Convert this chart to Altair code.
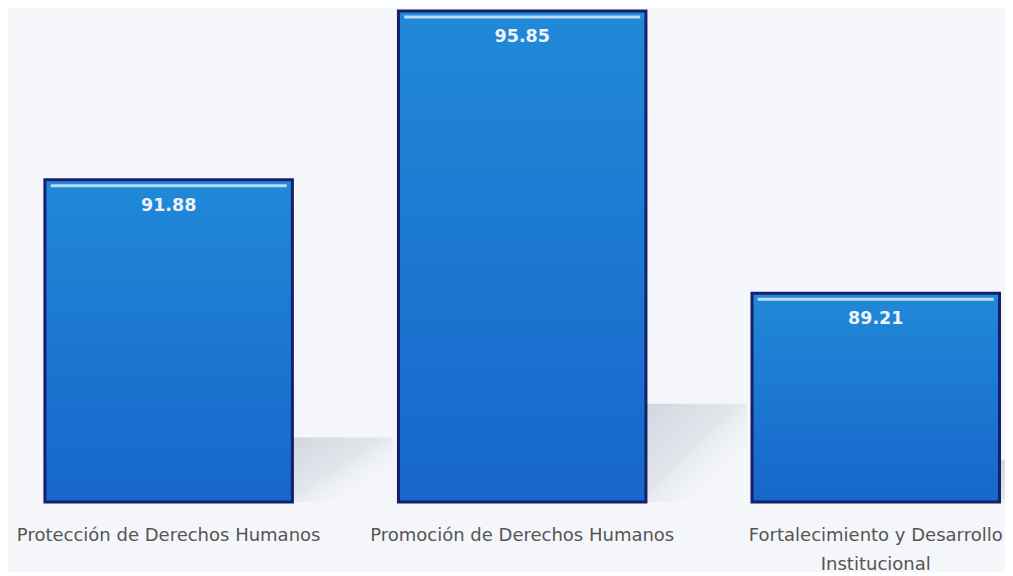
import altair as alt
import pandas as pd

categories = ["Protección de Derechos Humanos", "Promoción de Derechos Humanos",
              "Fortalecimiento y Desarrollo|Institucional"]
values = [91.88, 95.85, 89.21]
labels = ["91.88", "95.85", "89.21"]

df = pd.DataFrame({"cat": categories, "val": values, "lab": labels})

ymin, ymax = 84.3, 95.92

x = alt.X("cat:N", sort=categories, title=None,
          scale=alt.Scale(paddingInner=0.3, paddingOuter=0.06, align=0.87),
          axis=alt.Axis(labelAngle=0, ticks=False, domain=False, labelPadding=24,
                        labelFont="DejaVu Sans", labelFontSize=18, labelColor="#555555",
                        labelLineHeight=29, labelLimit=400,
                        labelExpr="split(datum.label, '|')"))
yscale = alt.Scale(domain=[ymin, ymax], nice=False, zero=False)
y = alt.Y("val:Q", scale=yscale, axis=None)

base = alt.Chart(df)

shadow = base.transform_calculate(
    stop=f"{ymin} + (datum.val - {ymin}) * 0.2"
).mark_bar(
    width=100, xOffset=174, clip=True,
    fill=alt.Gradient(gradient="linear",
                      stops=[alt.GradientStop(color="rgba(190,196,208,0.65)", offset=0),
                             alt.GradientStop(color="rgba(200,205,215,0.4)", offset=0.45),
                             alt.GradientStop(color="rgba(230,233,238,0)", offset=0.75)],
                      x1=0, x2=1, y1=0, y2=1)
).encode(x=x, y=alt.Y("stop:Q", scale=yscale, axis=None), y2=alt.datum(ymin))

bars = base.mark_bar(
    fill=alt.Gradient(gradient="linear",
                      stops=[alt.GradientStop(color="#2189d8", offset=0),
                             alt.GradientStop(color="#1b74d0", offset=0.6),
                             alt.GradientStop(color="#1766cb", offset=1)],
                      x1=0, x2=0, y1=0, y2=1),
    stroke="#14206e", strokeWidth=3
).encode(x=x, y=y, y2=alt.datum(ymin))

hl = base.mark_tick(color="#d6e9f8", thickness=3, size=236, opacity=0.85, yOffset=6).encode(x=x, y=y)

txt = base.mark_text(color="#eef3fb", font="DejaVu Sans", fontWeight="bold", fontSize=17.5,
                     baseline="middle", dy=26).encode(x=x, y=y, text="lab:N")

chart = alt.layer(shadow, bars, hl, txt).properties(
    width=997, height=494,
    background="#f4f6f9",
    padding={"left": 0, "top": 0, "right": 0, "bottom": 70},
    autosize=alt.AutoSizeParams(type="none")
).configure_view(stroke=None)

chart.save("out.html", embed_options={"renderer": "svg", "actions": False})
